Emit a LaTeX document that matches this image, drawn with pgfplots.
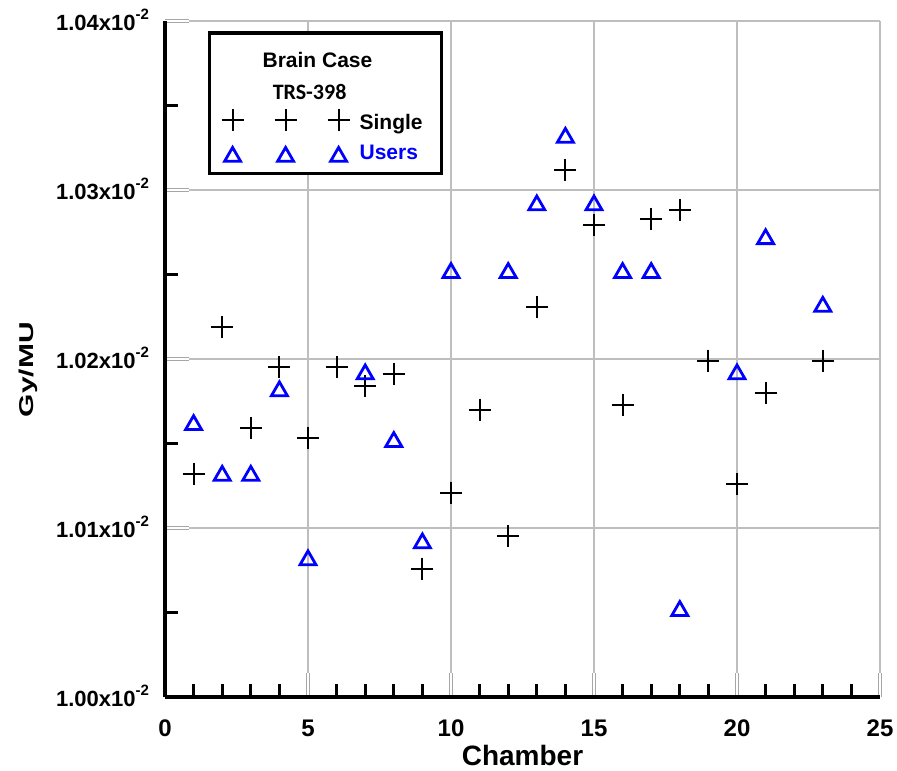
\documentclass[border=0pt]{standalone}
\usepackage{fontspec}
\setmainfont{Liberation Sans}
\newfontfamily\calibri{Carlito}
\usepackage{graphicx}
\usepackage{pgfplots}
\pgfplotsset{compat=1.18}
\definecolor{gridgray}{RGB}{190,190,190}
\definecolor{myblue}{RGB}{0,0,255}
\pgfplotsset{
  threemarks/.style={legend image code/.code={\path[draw=none,fill=none] (0pt,10.5pt) -- (0pt,-6.5pt);
    \draw[mark repeat=1,mark phase=1,##1] plot coordinates {(0pt,0pt) (26.5pt,0pt) (53pt,0pt)};}},
  threetri/.style={legend image code/.code={\path[draw=none,fill=none] (0pt,9.2pt) -- (0pt,-4.5pt);
    \draw[mark repeat=1,mark phase=1,##1] plot coordinates {(0pt,-1.2pt) (26.5pt,-1.2pt) (53pt,-1.2pt)};}},
}
\newcommand{\ylab}[1]{{\fontsize{11}{13}\selectfont\bfseries #1x10\raisebox{0.9ex}{\fontsize{7.5}{8}\selectfont -2}}}
\begin{document}
\begin{tikzpicture}
\begin{axis}[
  name=ax,
  scale only axis,
  width=357.5pt, height=338pt,
  xmin=0, xmax=25, ymin=1.00, ymax=1.04,
  xtick={0,5,10,15,20,25},
  ytick={1.00,1.01,1.02,1.03,1.04},
  yticklabels={\ylab{1.00},\ylab{1.01},\ylab{1.02},\ylab{1.03},\ylab{1.04}},
  minor x tick num=4,
  minor y tick num=1,
  axis x line*=bottom,
  axis y line*=left,
  axis line style={line width=2pt,-},
  tick align=inside,
  major tick length=12pt,
  minor tick length=6.5pt,
  major tick style={draw=gray!70, line width=0.5pt, double=white, double distance=0.8pt},
  minor tick style={draw=black, line width=1.6pt},
  grid=major,
  major grid style={draw=gridgray, line width=0.9pt},
  /pgf/number format/assume math mode=true,
  xticklabel style={font=\bfseries\fontsize{12}{14}\selectfont, anchor=base, yshift=-19.5pt},
  yticklabel style={anchor=east, xshift=-4.5pt, yshift=0.5pt},
  xlabel={\bfseries\fontsize{14}{16}\selectfont Chamber},
  xlabel style={at={(axis description cs:0.5,0)}, anchor=base, yshift=-34pt},
  ylabel={\scalebox{1.5}[1]{\bfseries\fontsize{10}{12}\selectfont Gy/MU}},
  ylabel style={at={(axis description cs:0,0.484)}, anchor=center, rotate=0, yshift=68.5pt},
  legend style={at={(axis description cs:0.06,0.985)}, anchor=north west,
    draw=black, line width=1.7pt, fill=white,
    font=\bfseries\fontsize{10.5}{12}\selectfont,
    inner xsep=6pt, inner ysep=3.85pt, row sep=0pt,
    nodes={inner xsep=1.5pt, inner ysep=1.5pt},
    /tikz/every odd column/.append style={column sep=3.5pt},
    legend cell align=left},
  threemarks,
  clip=false,
]
\addlegendimage{empty legend}
\addlegendentry{\hspace*{-48.5pt}\rule[-7pt]{0pt}{19.1pt}Brain Case}
\addlegendimage{empty legend}
\addlegendentry{\hspace*{-48pt}\rule[-1.15pt]{0pt}{9.4pt}\raisebox{-3pt}[0pt][0pt]{\calibri\bfseries\fontsize{11}{12}\selectfont TRS-398}}
\addplot[only marks, mark=+, mark size=5.5pt, black, line width=1pt] coordinates {
(1,1.0132) (2,1.0219) (3,1.0159) (4,1.0195) (5,1.0153) (6,1.0195) (7,1.0184)
(8,1.0191) (9,1.0076) (10,1.0121) (11,1.0170) (12,1.0095) (13,1.0231) (14,1.0312)
(15,1.0279) (16,1.0173) (17,1.0283) (18,1.0288) (19,1.0199) (20,1.0126) (21,1.0180)
(23,1.0199)
};
\addlegendentry{\rule[-3.5pt]{0pt}{14.6pt}Single\hspace*{2pt}}
\addplot[only marks, mark=triangle, mark size=4.6pt, myblue, line width=1.4pt, threetri] coordinates {
(1,1.0161) (2,1.0131) (3,1.0131) (4,1.0181) (5,1.0081) (7,1.0191) (8,1.0151)
(9,1.0091) (10,1.0251) (12,1.0251) (13,1.0291) (14,1.0331) (15,1.0291) (16,1.0251)
(17,1.0251) (18,1.0051) (20,1.0191) (21,1.0271) (23,1.0231)
};
\addlegendentry{\textcolor{myblue}{Users}}
\end{axis}
\pgfresetboundingbox
\path (ax.south west) ++(-82.5pt,-36.5pt) coordinate (bl);
\path (ax.north east) ++(8.5pt,10.5pt) coordinate (tr);
\path[use as bounding box] (bl) rectangle (tr);
\end{tikzpicture}
\end{document}
